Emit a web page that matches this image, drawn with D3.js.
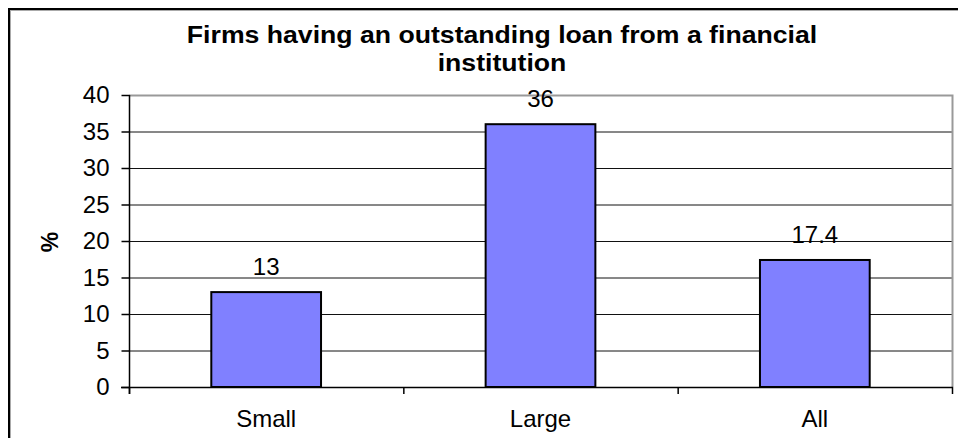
<!DOCTYPE html>
<html>
<head>
<meta charset="utf-8">
<script src="https://cdn.jsdelivr.net/npm/d3@7"></script>
<style>
  body { margin: 0; background: #fff; }
  svg { display: block; font-family: "Liberation Sans", Arial, sans-serif; }
</style>
</head>
<body>
<div class="container"></div>
<script>
var categories = ['Small', 'Large', 'All'];
var values = [13, 36, 17.4];
var yTicks = [0, 5, 10, 15, 20, 25, 30, 35, 40];
var titleLines = ['Firms having an outstanding loan from a financial', 'institution'];

var WIDTH = 958, HEIGHT = 438;
var plot = {left: 129, right: 952, top: 95, bottom: 387};

var visualize = function () {
    var svg = d3.select('.container').append('svg')
        .attr('width', WIDTH)
        .attr('height', HEIGHT);

    // outer chart frame (runs off the right and bottom edges)
    svg.append('rect')
        .attr('x', 10.5).attr('y', 10.5)
        .attr('width', WIDTH + 10).attr('height', HEIGHT + 10)
        .attr('fill', 'none')
        .attr('stroke', '#aaa')
        .attr('stroke-width', 1);
    svg.append('rect')
        .attr('x', 9).attr('y', 9)
        .attr('width', WIDTH + 10).attr('height', HEIGHT + 10)
        .attr('fill', 'none')
        .attr('stroke', '#000')
        .attr('stroke-width', 2);

    var xScale = d3.scaleBand()
        .domain(categories)
        .range([plot.left, plot.right])
        .paddingInner(0.6)
        .paddingOuter(0.3);

    var yScale = d3.scaleLinear()
        .domain([0, 40])
        .range([plot.bottom, plot.top]);

    // gridlines
    svg.append('g').selectAll('line')
        .data(yTicks.filter(function (d) { return d > 0 && d < 40; }))
        .enter().append('line')
        .attr('x1', plot.left).attr('x2', plot.right)
        .attr('y1', function (d) { return yScale(d) + 0.5; })
        .attr('y2', function (d) { return yScale(d) + 0.5; })
        .attr('stroke', '#111')
        .attr('stroke-width', 1);

    // plot area border top/right (gray)
    svg.append('path')
        .attr('d', 'M' + plot.left + ',' + (plot.top + 0.5) + 'H' + (plot.right + 0.5) + 'V' + plot.bottom)
        .attr('fill', 'none')
        .attr('stroke', '#999')
        .attr('stroke-width', 2);

    // bars
    svg.append('g').selectAll('rect')
        .data(values)
        .enter().append('rect')
        .attr('x', function (d, i) { return xScale(categories[i]); })
        .attr('y', function (d) { return yScale(d); })
        .attr('width', xScale.bandwidth())
        .attr('height', function (d) { return yScale(0) - yScale(d); })
        .attr('fill', '#8080ff')
        .attr('stroke', '#000')
        .attr('stroke-width', 2);

    // value labels
    svg.append('g').selectAll('text')
        .data(values)
        .enter().append('text')
        .attr('x', function (d, i) { return xScale(categories[i]) + xScale.bandwidth() / 2; })
        .attr('y', function (d) { return yScale(d) - 17; })
        .attr('text-anchor', 'middle')
        .attr('font-size', 24)
        .text(function (d) { return d; });

    // y axis
    var yAxis = d3.axisLeft(yScale)
        .tickValues(yTicks)
        .tickSize(8)
        .tickPadding(12)
        .tickFormat(d3.format('d'));
    var gy = svg.append('g')
        .attr('transform', 'translate(' + (plot.left + 0.5) + ',0)')
        .call(yAxis);
    gy.select('.domain').attr('d', 'M0,' + plot.top + 'V' + (plot.bottom + 7));
    gy.selectAll('line').attr('stroke', '#000').attr('stroke-width', 1.5);
    gy.select('.domain').attr('stroke', '#000').attr('stroke-width', 1.5);
    gy.selectAll('text')
        .attr('font-size', 24)
        .attr('font-family', '"Liberation Sans", Arial, sans-serif')
        .attr('fill', '#000');

    // x axis: ticks between categories
    var boundaries = d3.range(categories.length + 1).map(function (i) {
        return plot.left + i * (plot.right - plot.left) / categories.length;
    });
    var gx = svg.append('g');
    gx.append('line')
        .attr('x1', plot.left - 8).attr('x2', plot.right + 1)
        .attr('y1', plot.bottom + 0.5).attr('y2', plot.bottom + 0.5)
        .attr('stroke', '#000').attr('stroke-width', 1.5);
    gx.selectAll('line.tick')
        .data(boundaries)
        .enter().append('line')
        .attr('class', 'tick')
        .attr('x1', function (d) { return d + 0.5; })
        .attr('x2', function (d) { return d + 0.5; })
        .attr('y1', plot.bottom).attr('y2', plot.bottom + 7)
        .attr('stroke', '#000').attr('stroke-width', 1.5);
    gx.selectAll('text')
        .data(categories)
        .enter().append('text')
        .attr('x', function (d) { return xScale(d) + xScale.bandwidth() / 2; })
        .attr('y', 427)
        .attr('text-anchor', 'middle')
        .attr('font-size', 24)
        .text(function (d) { return d; });

    // y axis title
    svg.append('text')
        .attr('transform', 'translate(58,242) rotate(-90)')
        .attr('text-anchor', 'middle')
        .attr('font-size', 23)
        .attr('font-weight', 'bold')
        .text('%');

    // chart title, slightly widened like the original rendering
    svg.append('text')
        .attr('transform', 'translate(502,43) scale(1.11,1)')
        .attr('text-anchor', 'middle')
        .attr('font-size', 24)
        .attr('font-weight', 'bold')
        .selectAll('tspan')
        .data(titleLines)
        .enter().append('tspan')
        .attr('x', 0)
        .attr('dy', function (d, i) { return i === 0 ? 0 : 28; })
        .text(function (d) { return d; });
};

window.onload = visualize;
</script>
</body>
</html>
